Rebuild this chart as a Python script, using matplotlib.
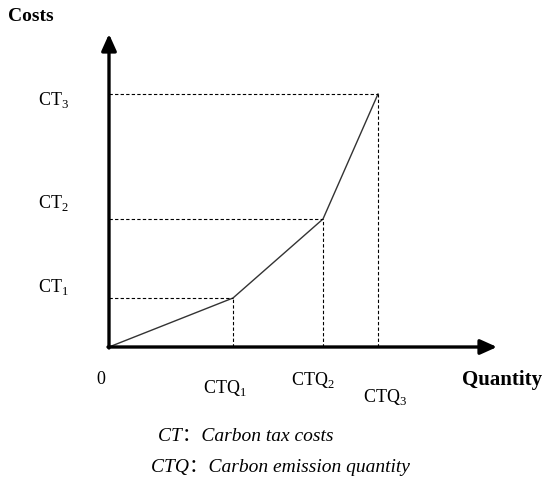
import matplotlib.pyplot as plt

# piecewise carbon tax cost curve (arbitrary units)
quantity = [0, 124, 214, 269]
costs = [0, 49, 128, 253]
ct_labels = ["CT$_1$", "CT$_2$", "CT$_3$"]
ctq_labels = ["CTQ$_1$", "CTQ$_2$", "CTQ$_3$"]

plt.rcParams["font.family"] = ["Liberation Serif", "Noto Sans CJK SC", "DejaVu Sans"]
plt.rcParams["mathtext.fontset"] = "custom"
plt.rcParams["mathtext.rm"] = "Liberation Serif"

fig = plt.figure(figsize=(5.5, 4.86), dpi=100)
ax = fig.add_axes([0, 0, 1, 1])
ax.set_xlim(-109, 441)
ax.set_ylim(-139, 347)
ax.axis("off")

# axes with arrows
arrow = dict(arrowstyle="-|>,head_length=1.0,head_width=0.45", lw=2.4,
             color="black", shrinkA=0, shrinkB=0)
ax.annotate("", xy=(388, 0), xytext=(-1, 0), arrowprops=arrow)
ax.annotate("", xy=(0, 313), xytext=(0, -1), arrowprops=arrow)

# cost curve
ax.plot(quantity, costs, color="#333333", lw=1.0)

# dashed guide lines
for q, c in zip(quantity[1:], costs[1:]):
    ax.plot([0, q], [c, c], color="black", lw=0.8, ls=(0, (3, 2)))
    ax.plot([q, q], [0, c], color="black", lw=0.8, ls=(0, (3, 2)))

# tick labels
fs = 13
ax.text(-71, costs[1] + 11, ct_labels[0], fontsize=fs, ha="left", va="center")
ax.text(-71, costs[2] + 16, ct_labels[1], fontsize=fs, ha="left", va="center")
ax.text(-71, costs[3] - 6, ct_labels[2], fontsize=fs, ha="left", va="center")
ax.text(-8, -33, "0", fontsize=fs, ha="center", va="center")
ax.text(quantity[1] - 8, -41, ctq_labels[0], fontsize=fs, ha="center", va="center")
ax.text(quantity[2] - 10, -33, ctq_labels[1], fontsize=fs, ha="center", va="center")
ax.text(quantity[3] + 7, -50, ctq_labels[2], fontsize=fs, ha="center", va="center")

# axis titles
ax.text(-101, 330, "Costs", fontsize=14, fontweight="bold", ha="left", va="center")
ax.text(433, -33, "Quantity", fontsize=15, fontweight="bold", ha="right", va="center")

# legend text
ax.text(49, -89, "CT：Carbon tax costs", fontsize=14, style="italic", ha="left", va="center")
ax.text(42, -120, "CTQ：Carbon emission quantity", fontsize=14, style="italic", ha="left", va="center")

fig.savefig("out.png", dpi=100)
